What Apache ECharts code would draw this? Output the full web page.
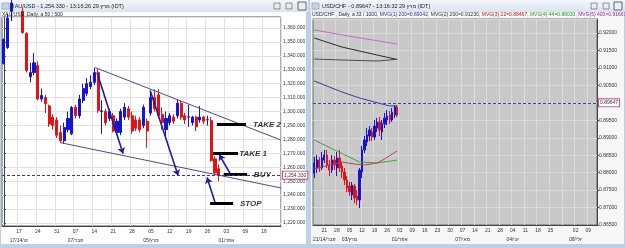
<!DOCTYPE html>
<html><head><meta charset="utf-8">
<script src="https://cdn.jsdelivr.net/npm/echarts@6/dist/echarts.min.js"></script>
<style>html,body{margin:0;padding:0;background:#bcd0e6;}#c{width:625px;height:248px;}</style>
</head><body><div id="c"></div>
<script>
// ---------- XAU/USD (left) ----------
const xauBarCount = 74;
const xauOpen  = [1334.5,1346,1372,1378,1375,1372,1356,1325,1328,1333,1309,1310,1304,1296,1294,1285,1279,1287,1284,1303,1297,1308,1313,1318,1321,1328,1300,1300,1295,1297,1285,1285,1296,1302,1297,1294,1294,1290,1293,1299,1310,1312,1298,1287,1292,1296,1297,1306,1297,1296,1292,1296,1294,1296,1294,1293.6,1266,1259];
const xauClose = [1351.7,1367,1378,1375,1373,1356.7,1329.5,1328,1335,1309,1311.5,1305.7,1291,1290,1283,1279,1288.5,1295,1302.9,1297,1309,1316.5,1320,1321,1328,1300.7,1300.5,1292,1300,1286,1293,1300,1303,1296,1286,1288,1287,1303,1286,1310,1302,1297,1292,1295,1297,1293,1306,1296,1294,1296.2,1296,1289,1296,1293,1294.1,1264.8,1256,1254.33];
const xauLow   = [1333.8,1345,1365,1371,1369,1356,1328,1321,1326,1308,1307,1299,1289,1287,1281,1278,1277,1285,1283,1295,1295,1306,1311,1316,1319,1299,1284,1290,1293,1285,1283,1283,1294,1294,1284,1286,1285,1288,1274,1297,1300,1295,1287,1281,1290,1291,1295,1294,1291,1289,1290,1286,1292,1291,1290,1264,1255,1250];
const xauHigh  = [1352.5,1370,1382,1383,1380,1375,1357,1335,1342,1336,1316.5,1312,1305,1298,1296,1290,1292,1300,1304,1305,1312,1320,1324,1326,1331.5,1331,1308,1302,1302,1299,1295,1302,1306,1304,1300,1297,1296,1305,1295,1313.6,1316,1316,1303,1300,1299,1298,1309,1308,1299,1305,1297,1297,1304,1297,1297,1296,1268,1262];
const xauTickIndex = [4,9,14,19,24,29,34,39,44,49,54,59,64,69];
const xauTickDay   = ['17','24','31','07','14','21','28','05','12','19','26','03','09','16'];
const xauTickMonth = ['17/14/ינו','','','07/פבר','','','','05/מרץ','','','','01/אפר','',''];
const xauLast = 1254.33;
// trend lines [x0, p0, x1, p1] in bar units / price
const xauTrendUpper = [24.2, 1331.6, 73.5, 1279.5];
const xauTrendLower = [14.9, 1277.7, 73.5, 1245.1];
// arrows
const xauArrows = [[24.7,1328,31.6,1269.8],[38.8,1315.1,46.2,1254.0],[56.0,1234.7,53.9,1252.6],[60.0,1255.5,57.1,1269.1]];
// level bars and their names
const xauLevelNames = ['TAKE 2','TAKE 1','BUY','STOP'];
const xauLevelPrice = [1290.7,1269.8,1254.8,1233.9];
const xauLevelFrom  = [56.5,55.5,58.3,54.7];
const xauLevelTo    = [64.2,62.1,64.5,60.8];
const xauLevelTextX = [66.1,62.4,66.3,62.6];

// ---------- USD/CHF (right) ----------
const chfBarCount = 113;
const chfOpen  = [0.87990,0.88133,0.88362,0.88133,0.88362,0.88506,0.88219,0.88076,0.88362,0.88133,0.88420,0.88191,0.88019,0.87789,0.87617,0.87360,0.87617,0.87331,0.87216,0.88019,0.88649,0.88878,0.89050,0.89165,0.89021,0.89279,0.89451,0.89165,0.89394,0.89509,0.89652,0.89509,0.89652,0.89881];
const chfClose = [0.88277,0.88362,0.88133,0.88420,0.88506,0.88219,0.88076,0.88362,0.88219,0.88420,0.88133,0.88019,0.87789,0.87560,0.87446,0.87646,0.87274,0.87216,0.88076,0.88649,0.88936,0.89079,0.89222,0.89021,0.89337,0.89451,0.89222,0.89394,0.89566,0.89623,0.89509,0.89738,0.89881,0.89647];
const chfLow   = [0.87847,0.87990,0.88019,0.88076,0.88277,0.88133,0.87904,0.87990,0.88076,0.87904,0.88019,0.87847,0.87646,0.87446,0.87331,0.87216,0.87130,0.87073,0.86987,0.87847,0.88563,0.88764,0.88907,0.88907,0.88936,0.89165,0.89050,0.88936,0.89279,0.89365,0.89394,0.89451,0.89566,0.89595];
const chfHigh  = [0.88448,0.88506,0.88448,0.88592,0.88649,0.88649,0.88362,0.88506,0.88477,0.88592,0.88649,0.88305,0.88133,0.87904,0.87732,0.87732,0.87675,0.87503,0.88133,0.88764,0.89050,0.89279,0.89337,0.89279,0.89509,0.89566,0.89595,0.89509,0.89709,0.89795,0.89766,0.89852,0.89938,0.89938];
const chfTickIndex = [4,9,14,19,24,29,34,39,44,49,54,59,64,69,74,79,84,89,94,99,104,109];
const chfTickDay   = ['21','28','05','12','19','26','03','09','16','23','30','07','14','21','28','04','11','18','25','','02','09'];
const chfTickMonth = ['21/14/פבר','','03/מרץ','','','','01/אפר','','','','','07/מאי','','','','04/יוני','','','','','08/יולי',''];
const chfLast = 0.89647;
// moving averages: sampled bar index / value
const maPinkIdx  = [0,16,33];          const maPinkVal  = [0.92087,0.91887,0.91686];
const maBlackIdx = [0,11,25,33];       const maBlackVal = [0.91858,0.91600,0.91371,0.91242];
const maGrayIdx  = [0,11,25,33];       const maGrayVal  = [0.91256,0.91228,0.91199,0.91248];
const maNavyIdx  = [0,6,11,18,24,30,33]; const maNavyVal = [0.90626,0.90454,0.90311,0.90139,0.90024,0.89910,0.89910];
const maGreenIdx = [0,9,18,25,33];     const maGreenVal = [0.88936,0.88620,0.88305,0.88277,0.88362];
const maRedIdx   = [0,6,11,16,20,25,28,31,33]; const maRedVal = [0.88105,0.88219,0.88305,0.88248,0.88219,0.88277,0.88391,0.88534,0.88620];

// ---------- build ----------
const FONT = 'Liberation Sans';
const xauCats = Array.from({length: xauBarCount}, (_, i) => String(i));
const chfCats = Array.from({length: chfBarCount}, (_, i) => String(i));
function tickFns(idx, txt) {
  const show = idx.filter((x, k) => txt[k] !== '');
  return {
    interval: (i) => show.indexOf(i) >= 0,
    formatter: (v) => { const k = idx.indexOf(Number(v)); return k < 0 ? '' : txt[k]; }
  };
}
const xtDay = tickFns(xauTickIndex, xauTickDay);
const xtMon = tickFns(xauTickIndex, xauTickMonth);
const ctDay = tickFns(chfTickIndex, chfTickDay);
const ctMon = tickFns(chfTickIndex, chfTickMonth);
const gridInterval = (idx) => (i) => idx.indexOf(i) >= 0;
const pair = (idx, val) => idx.map((x, i) => [x, val[i]]);
const fmtX = (v) => Number(v).toLocaleString('en-US', {minimumFractionDigits: 3, maximumFractionDigits: 3});
const labelBase = {fontSize: 5, color: '#333', hideOverlap: false};

const chart = echarts.init(document.getElementById('c'), null, {renderer: 'canvas'});
chart.setOption({
  animation: false,
  textStyle: {fontFamily: FONT},
  graphic: [
    {type: 'rect', z: -5, shape: {x: 1, y: 12, width: 305, height: 232}, style: {fill: '#ffffff'}},
    {type: 'rect', z: -5, shape: {x: 311, y: 12, width: 313, height: 232}, style: {fill: '#f7f7f7'}},
    {type: 'rect', z: -5, shape: {x: 0, y: 0, width: 308, height: 12}, style: {fill: {type: 'linear', x: 0, y: 0, x2: 0, y2: 1, colorStops: [{offset: 0, color: '#f4f7fb'}, {offset: 1, color: '#d9e3ef'}]}}},
    {type: 'rect', z: -5, shape: {x: 310, y: 0, width: 315, height: 12}, style: {fill: {type: 'linear', x: 0, y: 0, x2: 0, y2: 1, colorStops: [{offset: 0, color: '#f4f7fb'}, {offset: 1, color: '#d9e3ef'}]}}},
    {type: 'rect', z: 5, shape: {x: 2, y: 3, width: 7, height: 6}, style: {fill: '#c8d4e0', stroke: '#7a8aa0', lineWidth: 0.5}},
    {type: 'rect', z: 5, shape: {x: 312, y: 3, width: 7, height: 6}, style: {fill: '#c8d4e0', stroke: '#7a8aa0', lineWidth: 0.5}},
    {type: 'text', z: 5, x: 11, y: 3, style: {text: 'XAU/USD - 1,254.330 - 13:16:26 29 מרץ (IDT)', fontSize: 5.5, fontFamily: FONT, fill: '#1a1a1a'}},
    {type: 'text', z: 5, x: 322, y: 3, style: {text: 'USD/CHF - 0.89647 - 13:16:32 29 מרץ (IDT)', fontSize: 5.5, fontFamily: FONT, fill: '#1a1a1a'}},
    {type: 'text', z: 5, x: 2, y: 12, style: {text: 'XAU/USD ,Daily, a 50 / 500', fontSize: 5, fontFamily: FONT, fill: '#202020'}},
    {type: 'text', z: 5, x: 312, y: 12, style: {
      text: '{a|USD/CHF , Daily, a 33 / 1000, }{b|MVG(1) 200=0.89042, }{c|MVG(2) 200=0.91230, }{d|MVG(3) 22=0.88467, }{e|MVG(4) 44=0.88030, }{f|MVG(5) 400=0.91667, }{g|MVG(6) 400=}',
      fontSize: 5, fontFamily: FONT,
      rich: {a: {fill: '#202050', fontSize: 5}, b: {fill: '#2a2aa0', fontSize: 5}, c: {fill: '#303030', fontSize: 5}, d: {fill: '#c02020', fontSize: 5}, e: {fill: '#22a022', fontSize: 5}, f: {fill: '#a020a0', fontSize: 5}, g: {fill: '#303030', fontSize: 5}}}},
    // window buttons
    {type: 'rect', z: 5, shape: {x: 274, y: 3, width: 6, height: 6}, style: {fill: 'none', stroke: '#555', lineWidth: 0.6}},
    {type: 'rect', z: 5, shape: {x: 286, y: 3, width: 6, height: 6}, style: {fill: 'none', stroke: '#555', lineWidth: 0.6}},
    {type: 'rect', z: 5, shape: {x: 298, y: 2, width: 8, height: 8}, style: {fill: '#e8eef5', stroke: '#444', lineWidth: 0.8}},
    {type: 'rect', z: 5, shape: {x: 591, y: 3, width: 6, height: 6}, style: {fill: 'none', stroke: '#555', lineWidth: 0.6}},
    {type: 'rect', z: 5, shape: {x: 603, y: 3, width: 6, height: 6}, style: {fill: 'none', stroke: '#555', lineWidth: 0.6}},
    {type: 'rect', z: 5, shape: {x: 614, y: 2, width: 8, height: 8}, style: {fill: '#e8eef5', stroke: '#444', lineWidth: 0.8}}
  ],
  grid: [
    {left: 2, top: 17, width: 279, height: 209, show: true, borderColor: '#555', borderWidth: 1, backgroundColor: '#ffffff'},
    {left: 313, top: 19, width: 284, height: 206, show: true, borderColor: '#666', borderWidth: 1, backgroundColor: '#c9c9c9'}
  ],
  xAxis: [
    {type: 'category', gridIndex: 0, data: xauCats, boundaryGap: true,
     axisLine: {lineStyle: {color: '#444'}}, axisTick: {show: false},
     axisLabel: Object.assign({interval: xtDay.interval, formatter: xtDay.formatter, margin: 3}, labelBase),
     splitLine: {show: true, interval: gridInterval(xauTickIndex), lineStyle: {color: '#e2e2e2', width: 1}}},
    {type: 'value', gridIndex: 0, min: -0.5, max: xauBarCount - 0.5, show: false},
    {type: 'category', gridIndex: 1, data: chfCats, boundaryGap: true,
     axisLine: {lineStyle: {color: '#444'}}, axisTick: {show: false},
     axisLabel: Object.assign({interval: ctDay.interval, formatter: ctDay.formatter, margin: 3}, labelBase),
     splitLine: {show: true, interval: gridInterval(chfTickIndex), lineStyle: {color: '#dcdcdc', width: 1}}},
    {type: 'category', gridIndex: 0, data: xauCats, position: 'bottom', offset: 9, boundaryGap: true,
     axisLine: {show: false}, axisTick: {show: false}, splitLine: {show: false},
     axisLabel: Object.assign({interval: xtMon.interval, formatter: xtMon.formatter, margin: 3}, labelBase)},
    {type: 'category', gridIndex: 1, data: chfCats, position: 'bottom', offset: 9, boundaryGap: true,
     axisLine: {show: false}, axisTick: {show: false}, splitLine: {show: false},
     axisLabel: Object.assign({interval: ctMon.interval, formatter: ctMon.formatter, margin: 3}, labelBase)}
  ],
  yAxis: [
    {type: 'value', gridIndex: 0, position: 'right', min: 1217.8, max: 1367.9, splitNumber: 15, scale: true,
     axisLine: {show: true, lineStyle: {color: '#444'}}, axisTick: {show: true, length: 2, lineStyle: {color: '#444'}},
     axisLabel: {fontSize: 5, color: '#333', margin: 2, formatter: fmtX, showMinLabel: false, showMaxLabel: false},
     splitLine: {show: true, lineStyle: {color: '#e2e2e2'}}},
    {type: 'value', gridIndex: 1, position: 'right', min: 0.865, max: 0.92403, splitNumber: 12, scale: true,
     axisLine: {show: true, lineStyle: {color: '#444'}}, axisTick: {show: true, length: 2, lineStyle: {color: '#444'}},
     axisLabel: {fontSize: 5, color: '#333', margin: 2, formatter: (v) => Number(v).toFixed(5), showMaxLabel: false},
     splitLine: {show: true, lineStyle: {color: '#dadada'}}}
  ],
  series: [
    {type: 'candlestick', xAxisIndex: 0, yAxisIndex: 0, barWidth: 2.6, clip: true,
     data: xauOpen.map((o, i) => [o, xauClose[i], xauLow[i], xauHigh[i]]),
     itemStyle: {color: '#1414d2', color0: '#e01414', borderColor: '#1414d2', borderColor0: '#e01414', borderColorDoji: '#8c8c8c', borderWidth: 1},
     markLine: {silent: true, symbol: 'none', animation: false,
       lineStyle: {type: [3, 2], color: '#3434a8', width: 1},
       label: {show: true, position: 'end', distance: 2, formatter: fmtX(xauLast), fontSize: 5, color: '#333', backgroundColor: '#fff', borderColor: '#c8508a', borderWidth: 1, padding: [1, 1]},
       data: [{yAxis: xauLast}]}},
    {type: 'lines', coordinateSystem: 'cartesian2d', xAxisIndex: 1, yAxisIndex: 0, z: 3,
     lineStyle: {color: '#4c4c86', width: 1, opacity: 1}, symbol: 'none',
     data: [xauTrendUpper, xauTrendLower].map(t => ({coords: [[t[0], t[1]], [t[2], t[3]]]}))},
    {type: 'lines', coordinateSystem: 'cartesian2d', xAxisIndex: 1, yAxisIndex: 0, z: 4,
     lineStyle: {color: '#1c1ca8', width: 1.6, opacity: 1}, symbol: ['none', 'arrow'], symbolSize: 6,
     data: xauArrows.map(t => ({coords: [[t[0], t[1]], [t[2], t[3]]]}))},
    {type: 'lines', coordinateSystem: 'cartesian2d', xAxisIndex: 1, yAxisIndex: 0, z: 4,
     lineStyle: {color: '#000', width: 3, opacity: 1}, symbol: 'none',
     data: xauLevelPrice.map((p, i) => ({coords: [[xauLevelFrom[i], p], [xauLevelTo[i], p]]}))},
    {type: 'scatter', xAxisIndex: 1, yAxisIndex: 0, symbolSize: 0, z: 5,
     label: {show: true, position: 'right', distance: 0, formatter: '{b}', fontSize: 8, fontWeight: 'bold', fontStyle: 'italic', color: '#000', fontFamily: 'Liberation Sans'},
     data: xauLevelNames.map((n, i) => ({name: n, value: [xauLevelTextX[i], xauLevelPrice[i]]}))},

    {type: 'candlestick', xAxisIndex: 2, yAxisIndex: 1, barWidth: 1.8,
     data: chfOpen.map((o, i) => [o, chfClose[i], chfLow[i], chfHigh[i]]),
     itemStyle: {color: '#1414d2', color0: '#e01414', borderColor: '#1414d2', borderColor0: '#e01414', borderColorDoji: '#555', borderWidth: 1},
     markLine: {silent: true, symbol: 'none', animation: false,
       lineStyle: {type: [3, 2], color: '#3c3cc8', width: 1},
       label: {show: true, position: 'end', distance: 2, formatter: chfLast.toFixed(5), fontSize: 5, color: '#333', backgroundColor: '#fff', borderColor: '#c8508a', borderWidth: 1, padding: [1, 1]},
       data: [{yAxis: chfLast}]}},
    {type: 'line', xAxisIndex: 2, yAxisIndex: 1, showSymbol: false, data: pair(maPinkIdx, maPinkVal), lineStyle: {color: '#cc66c4', width: 1}},
    {type: 'line', xAxisIndex: 2, yAxisIndex: 1, showSymbol: false, data: pair(maBlackIdx, maBlackVal), lineStyle: {color: '#2a2a2a', width: 1}},
    {type: 'line', xAxisIndex: 2, yAxisIndex: 1, showSymbol: false, data: pair(maGrayIdx, maGrayVal), lineStyle: {color: '#4a4a4a', width: 1}},
    {type: 'line', xAxisIndex: 2, yAxisIndex: 1, showSymbol: false, data: pair(maNavyIdx, maNavyVal), lineStyle: {color: '#3c3c96', width: 1}},
    {type: 'line', xAxisIndex: 2, yAxisIndex: 1, showSymbol: false, data: pair(maGreenIdx, maGreenVal), lineStyle: {color: '#44a044', width: 1}},
    {type: 'line', xAxisIndex: 2, yAxisIndex: 1, showSymbol: false, data: pair(maRedIdx, maRedVal), lineStyle: {color: '#b04646', width: 1}}
  ]
});
</script>
</body></html>
